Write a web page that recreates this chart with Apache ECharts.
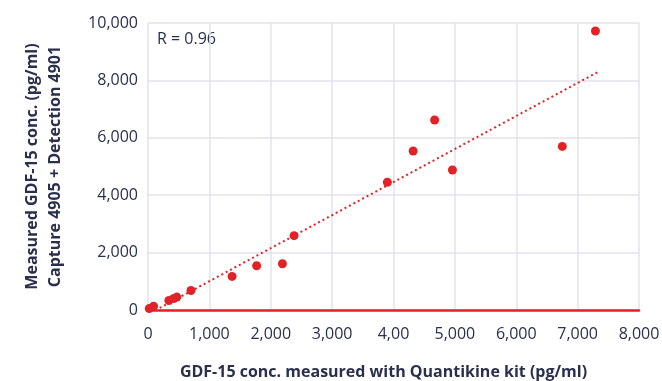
<!DOCTYPE html>
<html>
<head>
<meta charset="utf-8">
<script src="https://cdn.jsdelivr.net/npm/echarts@6/dist/echarts.min.js"></script>
<style>
  html, body { margin: 0; padding: 0; background: #fff; }
  #chart { width: 662px; height: 381px; }
</style>
</head>
<body>
<div id="chart"></div>
<script>
const quantikine = [20, 90, 340, 420, 470, 700, 1370, 1770, 2190, 2380, 3900, 4320, 4670, 4960, 6750, 7290];
const measured = [50, 130, 330, 400, 450, 680, 1170, 1540, 1610, 2590, 4450, 5540, 6620, 4880, 5700, 9720];

// linear trend line ends
const trendX = [190, 7320];
const trendY = [70, 8280];

const xTickLabels = ["0", "1,000", "2,000", "3,000", "4,00", "5,000", "6,000", "7,000", "8,000"];

const red = "#e32228";
const ink = "#2a2f4e";
const font = "Open Sans";

const chart = echarts.init(document.getElementById("chart"));

const option = {
    animation: false,
    textStyle: { fontFamily: font },
    grid: { left: 148, right: 23, top: 23, bottom: 71, outerBoundsMode: "none" },
    graphic: [{
        type: "text",
        left: 157,
        top: 31,
        style: { text: "R = 0.96", fill: ink, font: "16px '" + font + "'" }
    }],
    xAxis: {
        type: "value",
        min: 0, max: 8000, interval: 1000,
        name: "GDF-15 conc. measured with Quantikine kit (pg/ml)",
        nameLocation: "middle",
        nameGap: 54,
        nameTextStyle: { color: ink, fontSize: 16, fontWeight: "bold", padding: [0, 20, 0, 0] },
        axisLine: { show: true, onZero: true, lineStyle: { color: red, width: 2.5 } },
        axisTick: { show: false },
        axisLabel: {
            color: ink, fontSize: 16, margin: 16,
            formatter: (v) => xTickLabels[Math.round(v / 1000)]
        },
        splitLine: { show: true, lineStyle: { color: "#e2e2ea", width: 1.5 } }
    },
    yAxis: {
        type: "value",
        min: 0, max: 10000, interval: 2000,
        name: "Measured GDF-15 conc. (pg/ml)\nCapture 4905 + Detection 4901",
        nameLocation: "middle",
        nameGap: 81,
        nameTextStyle: { color: ink, fontSize: 16, fontWeight: "bold", lineHeight: 23 },
        axisLine: { show: false },
        axisTick: { show: false },
        axisLabel: {
            color: ink, fontSize: 16, margin: 10,
            formatter: (v) => v.toLocaleString("en-US")
        },
        splitLine: { show: true, lineStyle: { color: "#e2e2ea", width: 1.5 } }
    },
    series: [
        {
            type: "line",
            data: trendX.map((x, i) => [x, trendY[i]]),
            symbol: "none",
            lineStyle: { color: red, width: 2, type: [2, 3] },
            z: 2
        },
        {
            type: "scatter",
            data: quantikine.map((x, i) => [x, measured[i]]),
            symbolSize: 9,
            itemStyle: { color: red, opacity: 1 },
            z: 3
        }
    ]
};

chart.setOption(option);
</script>
</body>
</html>
